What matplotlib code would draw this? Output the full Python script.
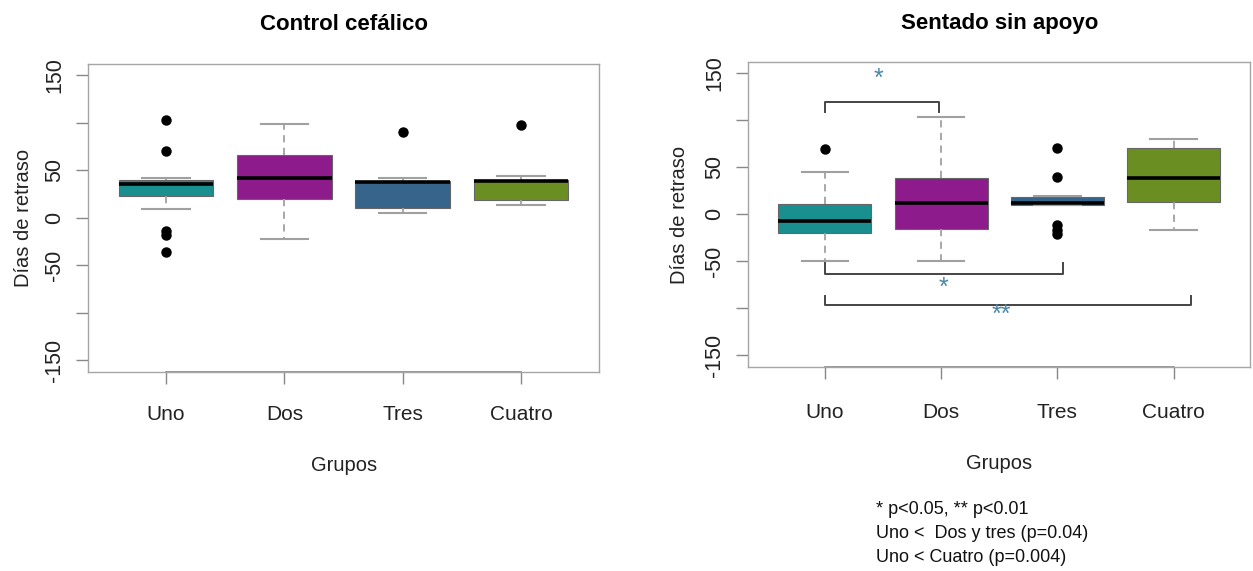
import numpy as np
import matplotlib
matplotlib.use('Agg')
import matplotlib.pyplot as plt

plt.rcParams['font.family'] = ['Liberation Sans', 'DejaVu Sans']

# Data (box plot summaries)
grupos = ['Uno', 'Dos', 'Tres', 'Cuatro']
colores = ['#1a8f8f', '#8e1b8b', '#36648b', '#6b8e23']

# Control cefalico
cc_whislo = [9, -23, 5, 13]
cc_q1 = [23, 20, 10, 19]
cc_med = [35, 42, 37.5, 38]
cc_q3 = [40, 66, 39, 40]
cc_whishi = [42, 99, 42, 44]
cc_fliers = [[103, 70, -14, -18, -36], [], [90], [97]]

# Sentado sin apoyo
ss_whislo = [-50, -50, 9, -17]
ss_q1 = [-20, -16, 9, 12.5]
ss_med = [-7, 12, 12, 38]
ss_q3 = [11, 38.5, 18.5, 70]
ss_whishi = [45, 103, 19, 80]
ss_fliers = [[69], [], [70.5, 39.5, -12, -17, -21], []]

yticks = [-150, -100, -50, 0, 50, 100, 150]
yticklabels = ['-150', '', '-50', '0', '50', '', '150']

nota = ['* p<0.05, ** p<0.01', 'Uno <  Dos y tres (p=0.04)', 'Uno < Cuatro (p=0.004)']


def boxplot_r(ax, whislo, q1, med, q3, whishi, fliers, titulo, ylim, xpad, ypad):
    stats = []
    for i in range(len(grupos)):
        stats.append(dict(whislo=whislo[i], q1=q1[i], med=med[i], q3=q3[i],
                          whishi=whishi[i], fliers=fliers[i]))
    pos = np.arange(1, len(grupos) + 1)
    bp = ax.bxp(stats, positions=pos, widths=0.8, patch_artist=True,
                showfliers=True,
                boxprops=dict(edgecolor='#666666', linewidth=0.8),
                medianprops=dict(color='black', linewidth=2.6),
                whiskerprops=dict(color='#a0a0a0', linewidth=1.3, linestyle=(0, (4, 3))),
                capprops=dict(color='#a0a0a0', linewidth=1.5),
                capwidths=0.4,
                flierprops=dict(marker='o', markerfacecolor='black',
                                markeredgecolor='black', markersize=6.5))
    for patch, c in zip(bp['boxes'], colores):
        patch.set_facecolor(c)
    ax.set_xlim(0.34, 4.66)
    ax.set_ylim(*ylim)
    ax.set_yticks(yticks)
    ax.set_yticklabels(yticklabels, rotation=90, va='center')
    ax.set_xticks(pos)
    ax.set_xticklabels(grupos)
    ax.tick_params(axis='both', colors='#888888', labelcolor='#222222',
                   length=8.5, width=1)
    ax.tick_params(axis='x', pad=xpad, labelsize=15)
    ax.tick_params(axis='y', pad=8, labelsize=15.5)
    for s in ax.spines.values():
        s.set_color('#a5a5a5')
        s.set_linewidth(1.0)
    # axis line from first to last group, as R draws it
    ax.plot([pos[0], pos[-1]], [0, 0], color='#858585', lw=1.2,
            transform=ax.get_xaxis_transform(), clip_on=False)
    ax.set_title(titulo, fontsize=16, fontweight='bold', pad=24,
                 family='Liberation Sans', fontstretch='normal')
    ax.set_xlabel('Grupos', fontsize=14.5, color='#222222', labelpad=23)
    ax.set_ylabel('Días de retraso', fontsize=14.5, color='#222222', labelpad=ypad)


fig = plt.figure(figsize=(12.53, 5.71), dpi=100)
ax1 = fig.add_axes([0.0702, 0.3485, 0.408, 0.540])
ax2 = fig.add_axes([0.597, 0.357, 0.401, 0.534])

boxplot_r(ax1, cc_whislo, cc_q1, cc_med, cc_q3, cc_whishi, cc_fliers,
          'Control cefálico', (-162.5, 162), 15, 8)
boxplot_r(ax2, ss_whislo, ss_q1, ss_med, ss_q3, ss_whishi, ss_fliers,
          'Sentado sin apoyo', (-162.6, 161), 17, 11)

# significance brackets
brk = '#444444'
est = '#4a86a8'
ax2.plot([1, 1, 1.98, 1.98], [108, 118.5, 118.5, 108], color=brk, lw=1.4)
ax2.text(1.46, 143, '*', color=est, fontsize=18, ha='center', va='center')
ax2.plot([1, 1, 3.05, 3.05], [-52, -63.5, -63.5, -52], color=brk, lw=1.4)
ax2.text(2.02, -78, '*', color=est, fontsize=18, ha='center', va='center')
ax2.plot([1, 1, 4.15, 4.15], [-87, -97, -97, -87], color=brk, lw=1.4)
ax2.text(2.52, -107, '**', color=est, fontsize=18, ha='center', va='center')

for i, linea in enumerate(nota):
    fig.text(876 / 1253, 1 - (510 + i * 24) / 571, linea, fontsize=13,
             color='#111111', ha='left', va='center')

fig.savefig('out.png', dpi=100, facecolor='white')
